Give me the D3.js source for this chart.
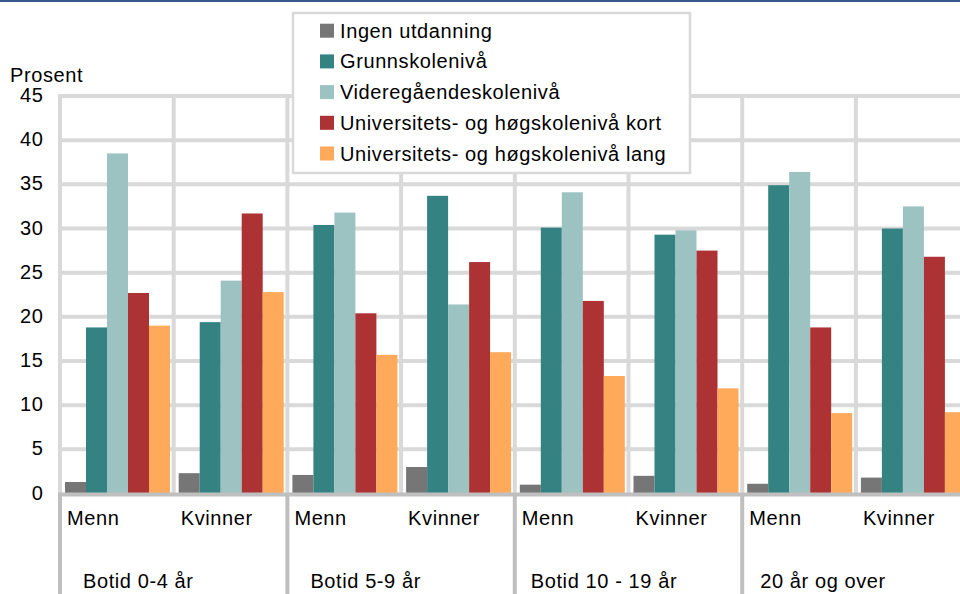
<!DOCTYPE html>
<html><head><meta charset="utf-8">
<script src="https://cdn.jsdelivr.net/npm/d3@7"></script>
<style>
html,body{margin:0;padding:0;background:#fff;}
svg{display:block;font-family:Arial,"Liberation Sans",sans-serif;}
</style></head>
<body><svg id="c" width="960" height="594"></svg>
<script>
const groups = ["Botid 0-4 år","Botid 5-9 år","Botid 10 - 19 år","20 år og over"];
const sexes = ["Menn","Kvinner"];
const seriesNames = ["Ingen utdanning","Grunnskolenivå","Videregåendeskolenivå","Universitets- og høgskolenivå kort","Universitets- og høgskolenivå lang"];
const colors = ["#767676","#348281","#9dc2c2","#ac3233","#ffaa5a"];
// values per series, in order: [0-4 Menn, 0-4 Kvinner, 5-9 Menn, 5-9 Kvinner, 10-19 Menn, 10-19 Kvinner, 20+ Menn, 20+ Kvinner]
const ingen     = [1.3, 2.3, 2.1, 3.0, 1.0, 2.0, 1.1, 1.8];
const grunn     = [18.8, 19.4, 30.4, 33.7, 30.1, 29.3, 34.9, 30.0];
const vgs       = [38.5, 24.1, 31.8, 21.4, 34.1, 29.8, 36.4, 32.5];
const uniKort   = [22.7, 31.7, 20.4, 26.2, 21.8, 27.5, 18.8, 26.8];
const uniLang   = [19.0, 22.8, 15.7, 16.0, 13.3, 11.9, 9.1, 9.2];
const yTicks = [0,5,10,15,20,25,30,35,40,45];
const yLabel = "Prosent";

const series = [ingen, grunn, vgs, uniKort, uniLang];
const cats = [];
groups.forEach((g,gi)=>sexes.forEach((s,si)=>cats.push({key:g+"|"+s, group:g, sex:s, idx:gi*2+si})));

const svg = d3.select("#c");
const pLeft = 60, catW = 113.7, pTop = 96, pBottom = 493.5;
const x = d3.scaleBand().domain(cats.map(c=>c.key)).range([pLeft, pLeft+catW*cats.length]).padding(0);
const xs = d3.scaleBand().domain(d3.range(series.length)).range([5, 110]).padding(0);
const y = d3.scaleLinear().domain([0,45]).range([pBottom, pTop]);

// top blue rule
svg.append("rect").attr("x",0).attr("y",0).attr("width",960).attr("height",2).attr("fill","#35598f");

// horizontal gridlines
svg.append("g").selectAll("line").data(yTicks.filter(t=>t>0)).join("line")
  .attr("x1",pLeft-2).attr("x2",960).attr("y1",d=>y(d)).attr("y2",d=>y(d))
  .attr("stroke","#d9d9d9").attr("stroke-width",4);
// vertical gridlines
svg.append("g").selectAll("line").data(d3.range(cats.length+1)).join("line")
  .attr("x1",i=>pLeft+i*catW).attr("x2",i=>pLeft+i*catW).attr("y1",pTop-2).attr("y2",pBottom)
  .attr("stroke","#d9d9d9").attr("stroke-width",4);

// bars
series.forEach((vals,si)=>{
  svg.append("g").selectAll("rect").data(cats).join("rect")
    .attr("x",c=>x(c.key)+xs(si)).attr("width",xs.bandwidth())
    .attr("y",c=>y(vals[c.idx])).attr("height",c=>y(0)-y(vals[c.idx]))
    .attr("fill",colors[si]);
});

// x axis line
svg.append("line").attr("x1",pLeft-2).attr("x2",960).attr("y1",y(0)+1).attr("y2",y(0)+1)
  .attr("stroke","#bfbfbf").attr("stroke-width",4);
// group separators
svg.append("g").selectAll("line").data(d3.range(groups.length+1)).join("line")
  .attr("x1",i=>pLeft+i*2*catW).attr("x2",i=>pLeft+i*2*catW).attr("y1",y(0)).attr("y2",594)
  .attr("stroke","#bfbfbf").attr("stroke-width",4);

const txt = sel => sel.attr("font-size",20).attr("letter-spacing","0.6px").attr("fill","#000");

// category labels
svg.append("g").selectAll("text").data(cats).join("text").call(txt)
  .attr("x",c=>x(c.key)+7).attr("y",525).text(c=>c.sex);
// group labels
const gOff = [23,23,16,18];
svg.append("g").selectAll("text").data(groups).join("text").call(txt)
  .attr("x",(g,i)=>pLeft+i*2*catW+gOff[i]).attr("y",588).text(g=>g);

// y axis labels
svg.append("g").selectAll("text").data(yTicks).join("text").call(txt)
  .attr("x",43.5).attr("y",d=>y(d)+6).attr("text-anchor","end").text(d=>d);
svg.append("text").call(txt).attr("x",10).attr("y",82).text(yLabel);

// legend
const lg = svg.append("g");
lg.append("rect").attr("x",293).attr("y",13).attr("width",397).attr("height",160)
  .attr("fill","#fff").attr("stroke","#d9d9d9").attr("stroke-width",2.5);
const li = lg.selectAll("g.it").data(seriesNames).join("g").attr("class","it")
  .attr("transform",(d,i)=>`translate(0,${30.7+i*30.7})`);
li.append("rect").attr("x",320).attr("y",-7).attr("width",14).attr("height",14).attr("fill",(d,i)=>colors[i]);
li.append("text").call(txt).attr("x",340).attr("y",7).text(d=>d);
</script></body></html>
